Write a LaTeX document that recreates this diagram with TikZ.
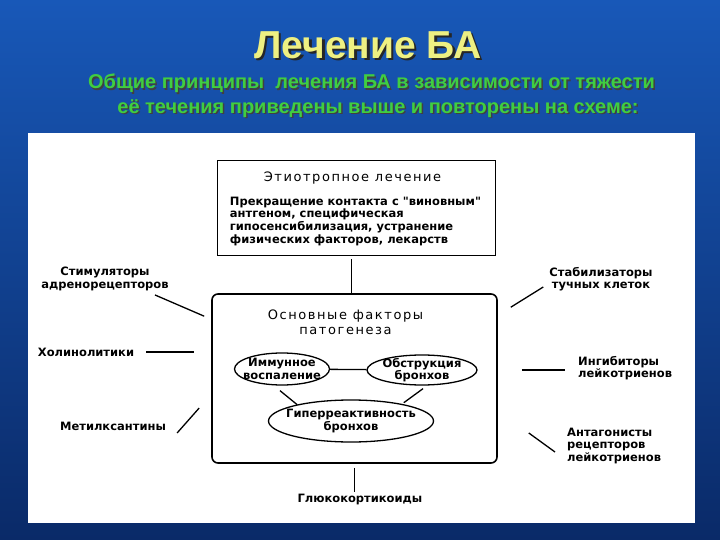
\documentclass[tikz,border=0pt]{standalone}
\usepackage{fontspec}
\setmainfont{Liberation Sans}
\newfontfamily\diagfont{DejaVu Sans}
\newfontfamily\headfont[LetterSpace=12]{DejaVu Sans}
\usetikzlibrary{calc, shapes.geometric}

\definecolor{bgtop}{RGB}{24,88,184}
\definecolor{bgbottom}{RGB}{10,42,104}
\definecolor{titleyellow}{RGB}{238,240,130}
\definecolor{subgreen}{RGB}{64,206,64}

\begin{document}
\begin{tikzpicture}[x=1pt, y=-1pt,
  every node/.style={inner sep=0pt, font=\diagfont\bfseries\fontsize{11.5}{12.6}\selectfont},
  headtext/.style={font=\headfont\fontsize{13}{15}\selectfont},
  factor/.style={draw, ellipse, line width=1.3pt, inner sep=0pt},
  conn/.style={line width=1.3pt},
  slidetitle/.style={font=\bfseries\fontsize{39}{42}\selectfont},
  slidesub/.style={font=\bfseries\fontsize{20}{24}\selectfont}]
  % background and panel
  \shade[top color=bgtop, bottom color=bgbottom] (0,0) rectangle (720,540);
  \useasboundingbox (0,0) rectangle (720,540);
  \fill[white] (28,133) rectangle (695,523);

  % slide title
  \node[slidetitle, text=black!85] (titleshadow) at (370.5,47.5) {Лечение БА};
  \node[slidetitle, text=titleyellow] (title) at (368,45) {Лечение БА};
  \node[slidesub, text=black!75] (subashadow) at (373,85) {Общие принципы\ \ лечения БА в зависимости от тяжести};
  \node[slidesub, text=subgreen] (suba) at (371.5,83.5) {Общие принципы\ \ лечения БА в зависимости от тяжести};
  \node[slidesub, text=black!75] (subbshadow) at (379.5,110) {её течения приведены выше и повторены на схеме:};
  \node[slidesub, text=subgreen] (subb) at (378,108.5) {её течения приведены выше и повторены на схеме:};

  % etiotropic box
  \node[draw, line width=1.6pt, minimum width=278pt, minimum height=95pt] (etio) at (356.5,208) {};
  \node[headtext] (etiohead) at ($(etio.north)+(-4,18)$) {Этиотропное лечение};
  \node[anchor=north west, align=left] (etiobody) at ($(etio.north west)+(13,37)$) {Прекращение контакта с "виновным"\\антгеном, специфическая\\гипосенсибилизация, устранение\\физических факторов, лекарств};

  % pathogenesis box
  \node[draw, line width=1.6pt, rounded corners=6pt, minimum width=285pt, minimum height=169pt] (factors) at (354.5,378.5) {};
  \node[headtext, align=center] (facthead) at ($(factors.north)+(-9,29)$) {Основные факторы\\патогенеза};
  \node[factor, minimum width=95pt, minimum height=32pt] (immune) at (282,369) {};
  \node[align=center] (immunetext) at (immune) {Иммунное\\воспаление};
  \node[factor, minimum width=110pt, minimum height=30pt] (obstr) at (422,370) {};
  \node[align=center] (obstrtext) at (obstr) {Обструкция\\бронхов};
  \node[factor, minimum width=165pt, minimum height=42pt] (hyper) at (351,421) {};
  \node[align=center] (hypertext) at (hyper) {Гиперреактивность\\бронхов};
  \draw[conn] (immune) -- (obstr);
  \draw[conn] ($(immune.south)+(-2,5)$) -- ($(hyper.north west)+(5,-1)$);
  \draw[conn] ($(obstr.south)+(1,3)$) -- ($(hyper.north east)+(-6,-3)$);
  \draw[conn] ($(etio.south)+(-5,3)$) -- ($(factors.north)+(-3,0)$);

  % drug groups
  \node (gluco) at (360,500) {Глюкокортикоиды};
  \draw[conn] ($(factors.south)+(0,4)$) -- ($(gluco.north -| factors.south)+(0,-2)$);

  \node[align=center] (stim) at (105,279) {Стимуляторы\\адренорецепторов};
  \draw[conn] ($(stim.south)+(50,4)$) -- ($(factors.north west)+(-7,23)$);
  \node (cholin) at (86,352) {Холинолитики};
  \draw[conn] ($(cholin.east)+(12,0)$) -- ($(factors.west |- cholin.east)+(-17,0)$);
  \node (methyl) at (113,426) {Метилксантины};
  \draw[conn] ($(methyl.east)+(11,7)$) -- ($(factors.west)+(-12,29.5)$);

  \node[align=center] (stab) at (601,279) {Стабилизаторы\\тучных клеток};
  \draw[conn] ($(factors.north east)+(13,14)$) -- ($(stab.west)+(-6,8)$);
  \node[anchor=west, align=left] (inhib) at (578,368) {Ингибиторы\\лейкотриенов};
  \draw[conn] ($(factors.east |- inhib.west)+(24,2)$) -- ($(inhib.west)+(-13,2)$);
  \node[anchor=west, align=left] (antag) at (567,446) {Антагонисты\\рецепторов\\лейкотриенов};
  \draw[conn] ($(factors.east)+(31,54.5)$) -- ($(antag.west)+(-12,6)$);
\end{tikzpicture}
\end{document}
